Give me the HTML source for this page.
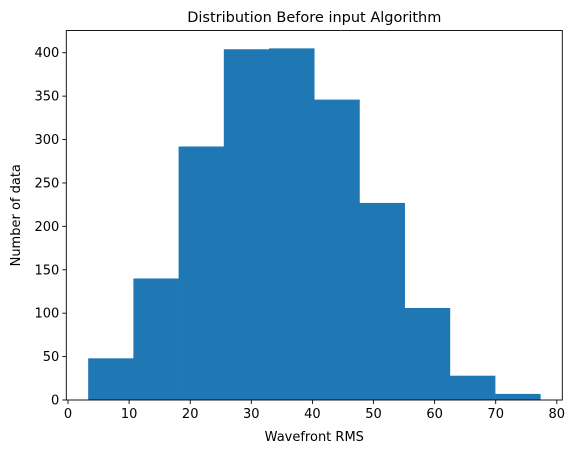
<!DOCTYPE html>
<html><head><meta charset="utf-8"><style>
body{margin:0;background:#fff;}
svg{display:block;font-family:"DejaVu Sans","Liberation Sans",sans-serif;}
</style></head><body>
<svg id="chart" width="573" height="453"></svg>
<script>
const binStart = 3.3;
const binEnd = 77.3;
const counts = [48, 140, 292, 404, 405, 346, 227, 106, 28, 7];
const xTicks = [0, 10, 20, 30, 40, 50, 60, 70, 80];
const yTicks = [0, 50, 100, 150, 200, 250, 300, 350, 400];

const L = 66.3, R = 562.3, T = 30.5, B = 400;
const xMin = -0.28, xMax = 80.9, yMax = 425.6;
const sx = v => L + (v - xMin) / (xMax - xMin) * (R - L);
const sy = v => B - v / yMax * (B - T);
const NS = "http://www.w3.org/2000/svg";
const svg = document.getElementById('chart');
function mk(tag, attrs, parent) {
  const e = document.createElementNS(NS, tag);
  for (const k in attrs) e.setAttribute(k, attrs[k]);
  (parent || svg).appendChild(e);
  return e;
}
const bw = (binEnd - binStart) / counts.length;
counts.forEach((c, i) => {
  const x0 = sx(binStart + i * bw), x1 = sx(binStart + (i + 1) * bw);
  const r = mk('rect', {x: x0, y: sy(c), width: x1 - x0 + 0.3, height: B - sy(c), fill: '#1f77b4'});
  
  
});
const frame = mk('rect', {x: L, y: T, width: R - L, height: B - T, fill: 'none', stroke: '#000', 'stroke-width': 0.9});


xTicks.forEach(v => {
  const x = sx(v);
  mk('line', {x1: x, x2: x, y1: B, y2: B + 4, stroke: '#000', 'stroke-width': 0.9});
  const t = mk('text', {x: x, y: B + 18, 'text-anchor': 'middle', 'font-size': 13});
  t.textContent = v;
  
  
});
yTicks.forEach(v => {
  const y = sy(v);
  mk('line', {x1: L - 4, x2: L, y1: y, y2: y, stroke: '#000', 'stroke-width': 0.9});
  const t = mk('text', {x: L - 7, y: y + 4.5, 'text-anchor': 'end', 'font-size': 13});
  t.textContent = v;
  
  
});
const title = mk('text', {x: (L + R) / 2, y: 22, 'text-anchor': 'middle', 'font-size': 14.5});
title.textContent = 'Distribution Before input Algorithm';


const xl = mk('text', {x: (L + R) / 2, y: 441, 'text-anchor': 'middle', 'font-size': 13});
xl.textContent = 'Wavefront RMS';


const yl = mk('text', {x: 0, y: 0, 'text-anchor': 'middle', 'font-size': 13, transform: 'translate(20,' + ((T + B) / 2) + ') rotate(-90)'});
yl.textContent = 'Number of data';


</script>
</body></html>
